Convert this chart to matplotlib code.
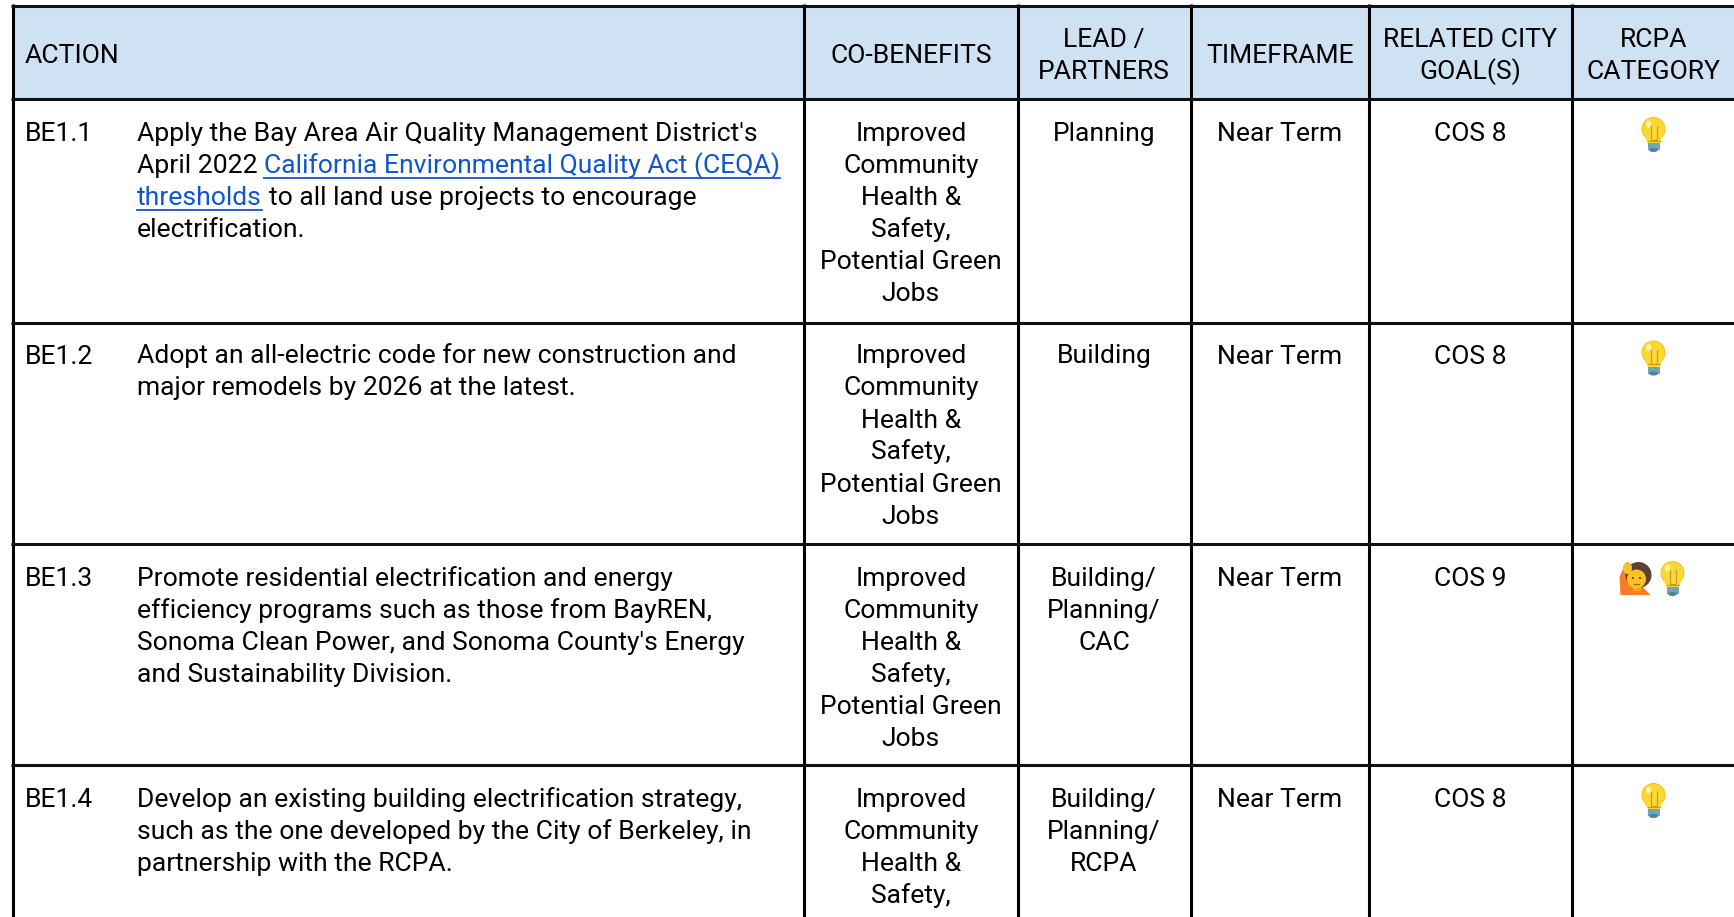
import matplotlib.pyplot as plt
from matplotlib.patches import Circle, Ellipse, Polygon, Rectangle

plt.rcParams["font.family"] = ["Roboto", "DejaVu Sans"]

# Table content
headers = ["CO-BENEFITS", "LEAD /\nPARTNERS", "TIMEFRAME", "RELATED CITY\nGOAL(S)", "RCPA\nCATEGORY"]
action_ids = ["BE1.1", "BE1.2", "BE1.3", "BE1.4"]
descriptions = [
    None,
    ["Adopt an all-electric code for new construction and",
     "major remodels by 2026 at the latest."],
    ["Promote residential electrification and energy",
     "efficiency programs such as those from BayREN,",
     "Sonoma Clean Power, and Sonoma County's Energy",
     "and Sustainability Division."],
    ["Develop an existing building electrification strategy,",
     "such as the one developed by the City of Berkeley, in",
     "partnership with the RCPA."],
]
benefits = ["Improved", "Community", "Health &", "Safety,", "Potential Green", "Jobs"]
leads = [["Planning"], ["Building"], ["Building/", "Planning/", "CAC"], ["Building/", "Planning/", "RCPA"]]
timeframes = ["Near Term", "Near Term", "Near Term", "Near Term"]
goals = ["COS 8", "COS 8", "COS 9", "COS 8"]
categories = [["bulb"], ["bulb"], ["person", "bulb"], ["bulb"]]

# Grid in pixels
W, H = 1734, 917
col_x = [12.5, 804, 1017.5, 1191, 1369, 1572]
col_mid = [911, 1104, 1280, 1470, 1653.5]
row_y = [5.5, 99, 322.5, 544, 765]
first_base = [141, 363.5, 586, 807]
line_h = 32
fs = 19.05
link_color = "#1155cc"

fig = plt.figure(figsize=(W / 100, H / 100), dpi=100)
ax = fig.add_axes([0, 0, 1, 1])
ax.set_xlim(0, W)
ax.set_ylim(H, 0)
ax.axis("off")


def put(x, y, s, ha="left", color="black"):
    return ax.text(x, y, s, fontsize=fs, ha=ha, va="baseline", color=color)


def draw_bulb(cx, top):
    ax.add_patch(Circle((cx, top + 11), 11.5, fc="#fdd835", ec="#f9b800", lw=0.6, zorder=3))
    ax.add_patch(Polygon([(cx - 9, top + 18), (cx + 9, top + 18), (cx + 5.5, top + 26), (cx - 5.5, top + 26)],
                         fc="#fdd835", ec="none", zorder=3))
    ax.add_patch(Ellipse((cx - 5, top + 6), 5, 7, fc="#fff3a0", ec="none", zorder=4))
    ax.plot([cx - 3, cx - 3, cx + 3, cx + 3], [top + 8, top + 22, top + 22, top + 8], color="#c99a2e", lw=0.9, zorder=4)
    ax.plot([cx - 6, cx + 6], [top + 22.5, top + 22.5], color="#c99a2e", lw=0.9, zorder=4)
    ax.add_patch(Rectangle((cx - 6, top + 25), 12, 7, fc="#6ea5b8", ec="none", zorder=3))
    ax.add_patch(Ellipse((cx, top + 32), 9, 4, fc="#4f8496", ec="none", zorder=3))


def draw_person(cx, top):
    ax.add_patch(Polygon([(cx - 16, top + 33), (cx - 17, top + 15), (cx - 12, top + 3), (cx - 7, top + 3),
                          (cx - 7, top + 22), (cx + 6, top + 25), (cx + 14, top + 33)],
                         fc="#f57c28", ec="none", zorder=3))
    ax.add_patch(Ellipse((cx - 9, top + 6), 9, 12, fc="#fbc02d", ec="none", zorder=5))
    ax.add_patch(Circle((cx + 2, top + 13), 13, fc="#5d4037", ec="none", zorder=3))
    ax.add_patch(Rectangle((cx - 4, top + 22), 8, 7, fc="#f9a825", ec="none", zorder=4))
    ax.add_patch(Circle((cx, top + 17), 9.5, fc="#fcc21b", ec="none", zorder=4))
    ax.add_patch(Circle((cx - 3.5, top + 16), 1, fc="#4e342e", ec="none", zorder=5))
    ax.add_patch(Circle((cx + 3.5, top + 16), 1, fc="#4e342e", ec="none", zorder=5))
    ax.plot([cx - 2.5, cx + 2.5], [top + 21.5, top + 21.5], color="#a1662a", lw=0.8, zorder=5)


# Header fill and grid
ax.add_patch(Rectangle((col_x[0], row_y[0]), W - col_x[0], row_y[1] - row_y[0], fc="#cfe2f3", ec="none", zorder=0))
for x in col_x:
    ax.plot([x, x], [row_y[0] - 1.5, H], color="black", lw=2.2, solid_capstyle="butt", zorder=2)
for y in row_y:
    ax.plot([col_x[0] - 1.5, W], [y, y], color="#111111", lw=2.2, solid_capstyle="butt", zorder=2)

# Header text
put(25, 63, "ACTION")
for mid, head in zip(col_mid, headers):
    parts = head.split("\n")
    base = 63 if len(parts) == 1 else 47
    for k, part in enumerate(parts):
        put(mid, base + k * line_h, part, ha="center")

# Body rows
for i, base in enumerate(first_base):
    put(25, base, action_ids[i])
    if descriptions[i]:
        for k, line in enumerate(descriptions[i]):
            put(137, base + k * line_h, line)
    for k, line in enumerate(benefits):
        if base + k * line_h < H:
            put(col_mid[0], base + k * line_h, line, ha="center")
    for k, line in enumerate(leads[i]):
        put(col_mid[1], base + k * line_h, line, ha="center")
    put(col_mid[2], base, timeframes[i], ha="center")
    put(col_mid[3], base, goals[i], ha="center")
    top = row_y[i + 1] + 19
    if len(categories[i]) == 1:
        draw_bulb(col_mid[4], top)
    else:
        draw_person(col_mid[4] - 17, top - 1)
        draw_bulb(col_mid[4] + 19, top - 1)

# BE1.1 has a link in the middle, so it goes piece by piece
base = first_base[0]
put(137, base, "Apply the Bay Area Air Quality Management District's")
put(137, base + 3 * line_h, "electrification.")
fig.canvas.draw()
rend = fig.canvas.get_renderer()

first = put(137, base + line_h, "April 2022 ")
x0 = first.get_window_extent(rend).x1
link1 = put(x0, base + line_h, "California Environmental Quality Act (CEQA)", color=link_color)
x1 = link1.get_window_extent(rend).x1
ax.plot([x0, x1], [base + line_h + 4.5, base + line_h + 4.5], color=link_color, lw=1.3, zorder=2)

link2 = put(137, base + 2 * line_h, "thresholds", color=link_color)
x2 = link2.get_window_extent(rend).x1
ax.plot([137, x2], [base + 2 * line_h + 4.5, base + 2 * line_h + 4.5], color=link_color, lw=1.3, zorder=2)
put(x2 + 7, base + 2 * line_h, "to all land use projects to encourage")

fig.savefig("out.png", dpi=100, facecolor="white")
